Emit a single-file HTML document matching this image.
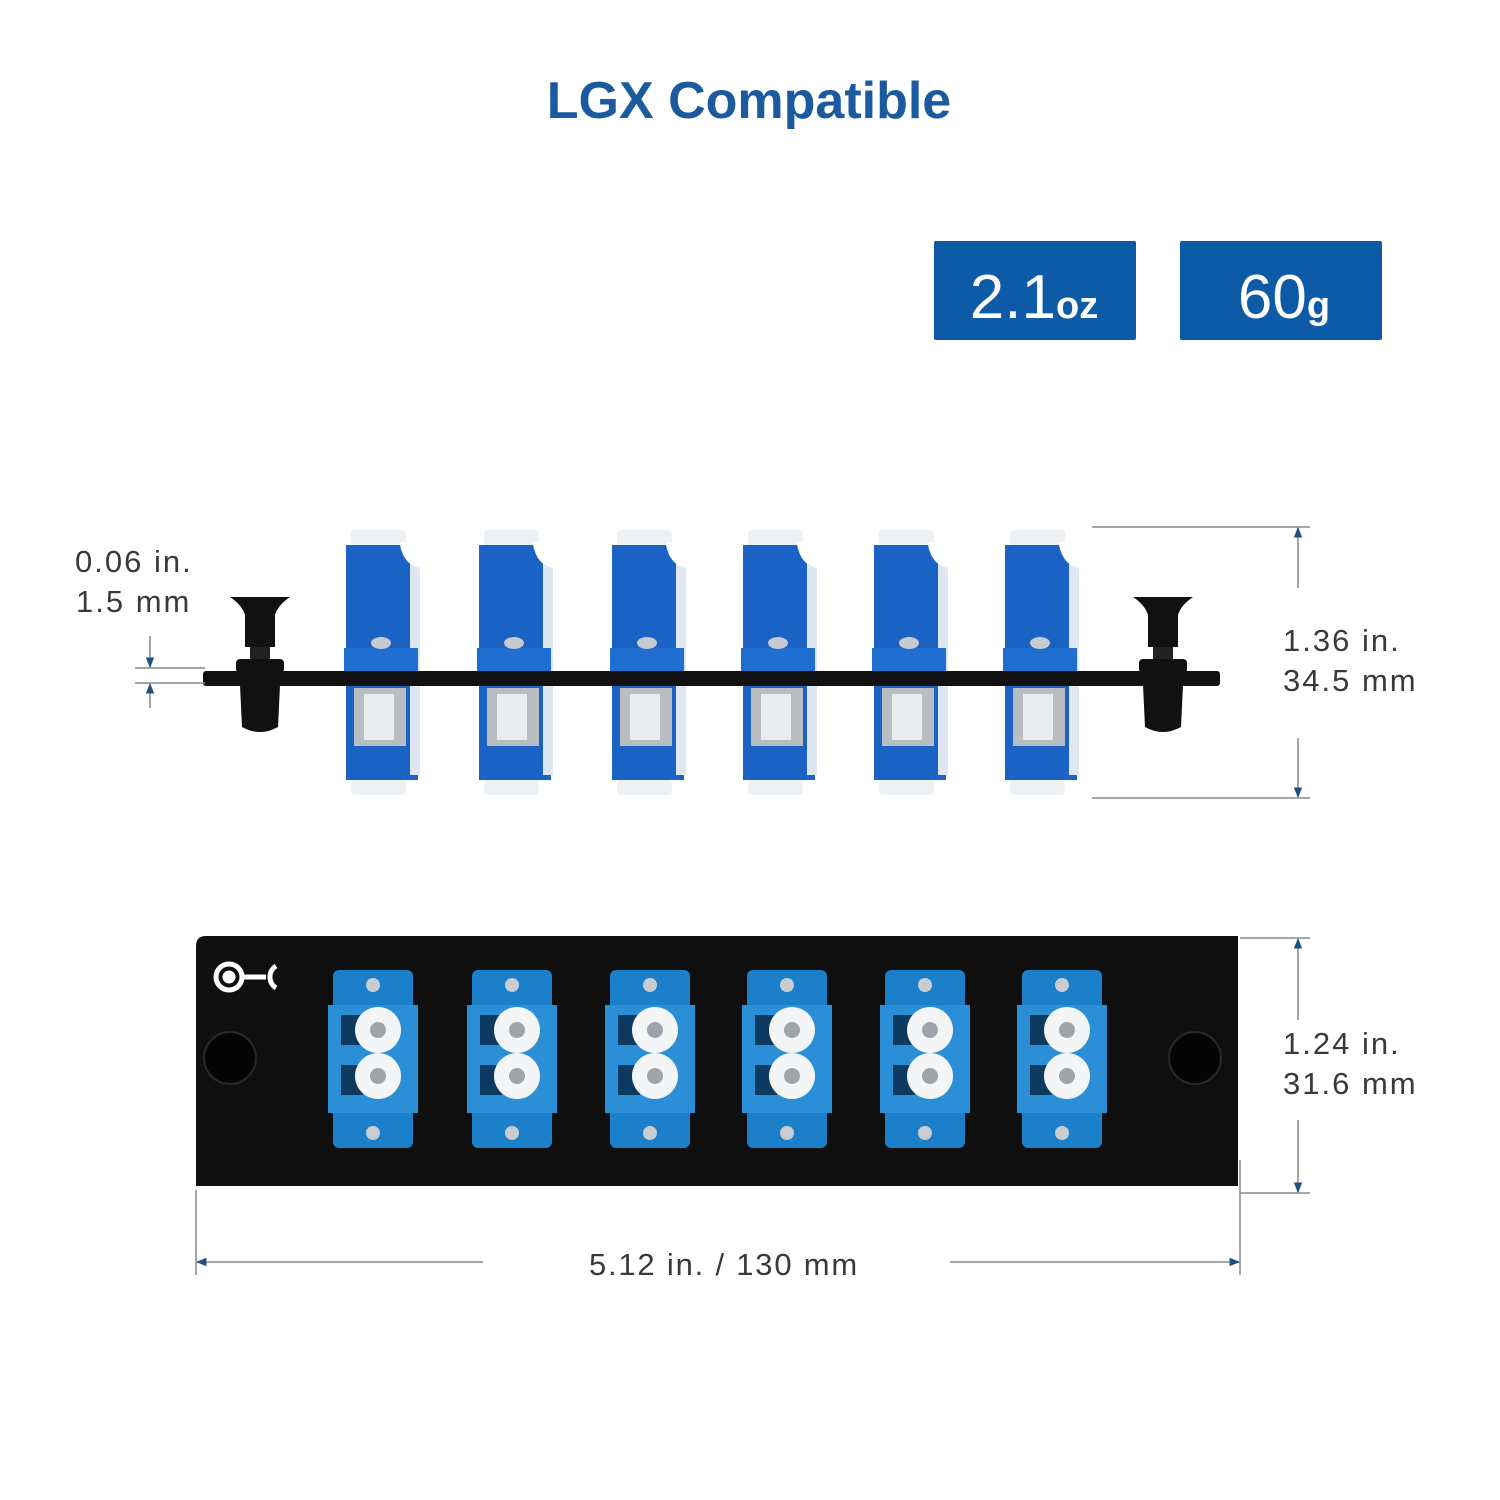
<!DOCTYPE html>
<html><head><meta charset="utf-8"><style>
html,body{margin:0;padding:0;background:#fff;}
svg{display:block}
text{font-family:"Liberation Sans",sans-serif}
</style></head><body>
<svg width="1500" height="1500" viewBox="0 0 1500 1500" xmlns="http://www.w3.org/2000/svg">
<defs>
<marker id="ar" viewBox="0 0 10 10" refX="9" refY="5" markerWidth="7" markerHeight="7" orient="auto-start-reverse"><path d="M0,1 L10,5 L0,9 z" fill="#1d4f7f"/></marker>
<g id="side">
  <rect x="5" y="0" width="55" height="18" rx="4" fill="#eef1f4"/>
  <rect x="0" y="15" width="72" height="235" fill="#1a63c4"/>
  <rect x="64" y="25" width="10" height="220" fill="#dfe8f2"/>
  <path d="M54 15 Q58 35 74 38 L76 38 L76 12 L54 12 z" fill="#fff"/>
  <rect x="-2" y="118" width="74" height="24" fill="#1f6fd0"/>
  <rect x="8" y="158" width="52" height="58" fill="#b9bcc0"/>
  <rect x="18" y="164" width="30" height="46" fill="#e9ecef"/>
  <ellipse cx="35" cy="113" rx="10" ry="6" fill="#c7cbcf"/>
  <rect x="5" y="250" width="55" height="15" rx="4" fill="#eef1f4"/>
</g>
<g id="knob">
  <path d="M-30 0 L30 0 Q18 8 15 18 L15 50 L-15 50 L-15 18 Q-18 8 -30 0 z" fill="#111"/>
  <rect x="-10" y="50" width="20" height="14" fill="#222"/>
  <rect x="-24" y="62" width="48" height="14" rx="4" fill="#111"/>
  <path d="M-20 88 L20 88 L18 130 Q0 140 -18 130 z" fill="#111"/>
</g>
<g id="front">
  <rect x="0" y="0" width="80" height="178" rx="6" fill="#1b7fc9"/>
  <rect x="-5" y="35" width="90" height="108" fill="#2a8fd6"/>
  <rect x="8" y="45" width="22" height="30" fill="#0d3a60"/>
  <rect x="8" y="95" width="22" height="30" fill="#0d3a60"/>
  <circle cx="40" cy="15" r="7" fill="#c9cdd1"/>
  <circle cx="40" cy="163" r="7" fill="#c9cdd1"/>
  <circle cx="45" cy="60" r="23" fill="#f4f5f6"/>
  <circle cx="45" cy="60" r="8" fill="#9ea4aa"/>
  <circle cx="45" cy="106" r="23" fill="#f4f5f6"/>
  <circle cx="45" cy="106" r="8" fill="#9ea4aa"/>
</g>
</defs>

<text x="749" y="118" text-anchor="middle" font-size="52" font-weight="bold" fill="#1b5a9e">LGX Compatible</text>

<rect x="934" y="241" width="202" height="99" rx="2" fill="#0d5aa6"/>
<text x="1034" y="318" text-anchor="middle" fill="#fff" font-size="62"><tspan>2.1</tspan><tspan font-size="38" font-weight="bold">oz</tspan></text>
<rect x="1180" y="241" width="202" height="99" rx="2" fill="#0d5aa6"/>
<text x="1284" y="318" text-anchor="middle" fill="#fff" font-size="62"><tspan>60</tspan><tspan font-size="38" font-weight="bold">g</tspan></text>

<g transform="translate(346,530)"><use href="#side"/></g>
<g transform="translate(479,530)"><use href="#side"/></g>
<g transform="translate(612,530)"><use href="#side"/></g>
<g transform="translate(743,530)"><use href="#side"/></g>
<g transform="translate(874,530)"><use href="#side"/></g>
<g transform="translate(1005,530)"><use href="#side"/></g>
<rect x="203" y="671" width="1017" height="15" rx="3" fill="#111"/>
<g transform="translate(260,597)"><use href="#knob"/></g>
<g transform="translate(1163,597)"><use href="#knob"/></g>

<g stroke="#888" stroke-width="1.5" fill="none">
<line x1="135" y1="668" x2="205" y2="668"/>
<line x1="135" y1="683" x2="205" y2="683"/>
<line x1="150" y1="636" x2="150" y2="667" marker-end="url(#ar)"/>
<line x1="150" y1="708" x2="150" y2="684" marker-end="url(#ar)"/>
<line x1="1092" y1="527" x2="1310" y2="527"/>
<line x1="1092" y1="798" x2="1310" y2="798"/>
<line x1="1298" y1="588" x2="1298" y2="528" marker-end="url(#ar)"/>
<line x1="1298" y1="738" x2="1298" y2="797" marker-end="url(#ar)"/>
<line x1="1240" y1="938" x2="1310" y2="938"/>
<line x1="1240" y1="1193" x2="1310" y2="1193"/>
<line x1="1298" y1="1020" x2="1298" y2="939" marker-end="url(#ar)"/>
<line x1="1298" y1="1120" x2="1298" y2="1192" marker-end="url(#ar)"/>
<line x1="196" y1="1190" x2="196" y2="1275"/>
<line x1="1240" y1="1160" x2="1240" y2="1275"/>
<line x1="483" y1="1262" x2="197" y2="1262" marker-end="url(#ar)"/>
<line x1="950" y1="1262" x2="1239" y2="1262" marker-end="url(#ar)"/>
</g>
<g fill="#3a3a3a" font-size="31" letter-spacing="2">
<text x="75" y="572">0.06 in.</text>
<text x="76" y="612">1.5 mm</text>
<text x="1283" y="651">1.36 in.</text>
<text x="1283" y="691">34.5 mm</text>
<text x="1283" y="1054">1.24 in.</text>
<text x="1283" y="1094">31.6 mm</text>
<text x="724" y="1275" text-anchor="middle" letter-spacing="1.8">5.12 in. / 130 mm</text>
</g>

<path d="M206 936 L1238 936 L1238 1186 L196 1186 L196 946 Q196 936 206 936 z" fill="#0f0f10"/>
<circle cx="230" cy="1058" r="26" fill="#050505" stroke="#2a2a2a" stroke-width="2"/>
<circle cx="1195" cy="1058" r="26" fill="#050505" stroke="#2a2a2a" stroke-width="2"/>
<g fill="none" stroke="#fff" stroke-width="5">
<circle cx="229" cy="977" r="13"/>
<circle cx="229" cy="977" r="4" fill="#fff"/>
<path d="M276 966 A13 13 0 0 0 276 988"/>
</g>
<line x1="242" y1="977" x2="266" y2="977" stroke="#fff" stroke-width="5"/>
<g transform="translate(333,970)"><use href="#front"/></g>
<g transform="translate(472,970)"><use href="#front"/></g>
<g transform="translate(610,970)"><use href="#front"/></g>
<g transform="translate(747,970)"><use href="#front"/></g>
<g transform="translate(885,970)"><use href="#front"/></g>
<g transform="translate(1022,970)"><use href="#front"/></g>
</svg>
</body></html>
